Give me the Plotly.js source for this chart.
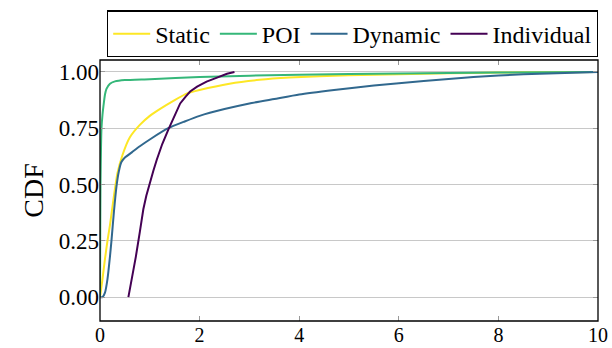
<!DOCTYPE html>
<html><head><meta charset="utf-8">
<script src="https://cdn.plot.ly/plotly-3.0.1.min.js"></script>
<style>body{margin:0;background:#fff}#c{width:612px;height:348px}</style>
</head><body><div id="c"></div>
<script>
const seriesNames = ["Static", "POI", "Dynamic", "Individual"];
const staticX = [0, 0.05, 0.1, 0.15, 0.2, 0.28, 0.35, 0.45, 0.6, 0.8, 1.0, 1.2, 1.5, 1.75, 2.0, 2.6, 3.2, 3.8, 5, 6, 7, 8, 9, 10];
const staticY = [0, 0.08, 0.17, 0.25, 0.32, 0.45, 0.55, 0.63, 0.71, 0.765, 0.805, 0.835, 0.875, 0.905, 0.92, 0.948, 0.965, 0.975, 0.985, 0.99, 0.994, 0.997, 0.999, 1.0];
const poiX = [0, 0.005, 0.01, 0.02, 0.03, 0.05, 0.07, 0.1, 0.13, 0.2, 0.3, 0.5, 1.0, 2.0, 4.0, 6.0, 8.0, 10];
const poiY = [0, 0.3, 0.5, 0.66, 0.75, 0.81, 0.85, 0.9, 0.925, 0.948, 0.958, 0.964, 0.968, 0.978, 0.988, 0.993, 0.997, 1.0];
const dynX = [0, 0.05, 0.1, 0.15, 0.2, 0.23, 0.28, 0.33, 0.38, 0.43, 0.5, 0.65, 0.8, 1.0, 1.37, 1.7, 2.0, 2.5, 3.0, 3.5, 4.0, 4.7, 5.5, 6.5, 7.5, 8.5, 10];
const dynY = [0, 0.0, 0.02, 0.08, 0.18, 0.25, 0.38, 0.49, 0.56, 0.6, 0.62, 0.645, 0.67, 0.7, 0.75, 0.78, 0.805, 0.835, 0.86, 0.88, 0.9, 0.92, 0.94, 0.96, 0.977, 0.99, 1.0];
const indX = [0.57, 0.65, 0.72, 0.8, 0.87, 0.93, 1.0, 1.07, 1.14, 1.25, 1.37, 1.5, 1.61, 1.72, 1.81, 1.95, 2.14, 2.35, 2.55, 2.7];
const indY = [0, 0.09, 0.18, 0.29, 0.39, 0.45, 0.51, 0.56, 0.61, 0.68, 0.743, 0.81, 0.86, 0.89, 0.913, 0.935, 0.957, 0.975, 0.992, 1.0];
const yTicks = [0, 0.25, 0.5, 0.75, 1.0];
const xTicks = [0, 2, 4, 6, 8, 10];
const colors = ["#fde725", "#35b779", "#31688e", "#440154"];

const xs = [staticX, poiX, dynX, indX];
const ys = [staticY, poiY, dynY, indY];
const traces = seriesNames.map((n, i) => ({
  x: xs[i], y: ys[i], name: n, type: 'scatter', mode: 'lines',
  line: {color: colors[i], width: 2, shape: i === 3 ? 'linear' : 'spline', smoothing: 0.5}
}));
// invisible helper trace so the mirrored top/right tick axes are drawn
traces.push({x: [xTicks[0]], y: [yTicks[0]], xaxis: 'x2', yaxis: 'y2', mode: 'markers',
  marker: {opacity: 0}, showlegend: false, hoverinfo: 'skip'});
const fam = 'Liberation Serif, Times New Roman, serif';
Plotly.newPlot('c', traces, {
  width: 612, height: 348,
  margin: {l: 100, r: 14, t: 60, b: 27, autoexpand: false},
  paper_bgcolor: '#fff', plot_bgcolor: '#fff',
  font: {family: fam, size: 22, color: '#000'},
  showlegend: true,
  legend: {orientation: 'h', x: 1.0, xanchor: 'right', y: 1.19, yanchor: 'top',
    bordercolor: '#000', borderwidth: 1.2, font: {family: fam, size: 24, color: '#000'},
    itemwidth: 37, tracegroupgap: 0, bgcolor: '#fff'},
  xaxis: {range: [0, 10], tickvals: xTicks, ticktext: xTicks.map(String),
    showgrid: false, zeroline: false, showline: false,
    ticks: 'inside', ticklen: 5, tickcolor: '#999', tickfont: {family: fam, size: 20, color: '#000'}},
  xaxis2: {overlaying: 'x', side: 'top', range: [0, 10], tickvals: xTicks, showticklabels: false,
    showgrid: false, zeroline: false, ticks: 'inside', ticklen: 5, tickcolor: '#999'},
  yaxis: {range: [-0.106, 1.053], tickvals: yTicks, ticktext: yTicks.map(v => v.toFixed(2)),
    showgrid: true, gridcolor: '#c8c8c8', gridwidth: 1, zeroline: false, showline: false,
    ticks: 'inside', ticklen: 5, tickcolor: '#999', tickfont: {family: fam, size: 23, color: '#000'},
    title: {text: 'CDF', font: {family: fam, size: 28, color: '#000'}, standoff: 6}},
  yaxis2: {overlaying: 'y', side: 'right', range: [-0.106, 1.053], tickvals: yTicks, showticklabels: false,
    showgrid: false, zeroline: false, ticks: 'inside', ticklen: 5, tickcolor: '#999'},
  shapes: [{type: 'rect', xref: 'paper', yref: 'paper', x0: 0, x1: 1, y0: 0, y1: 1,
    line: {color: '#000', width: 1.3}, fillcolor: 'rgba(0,0,0,0)', layer: 'above'}]
}, {displayModeBar: false, staticPlot: true});
</script></body></html>
